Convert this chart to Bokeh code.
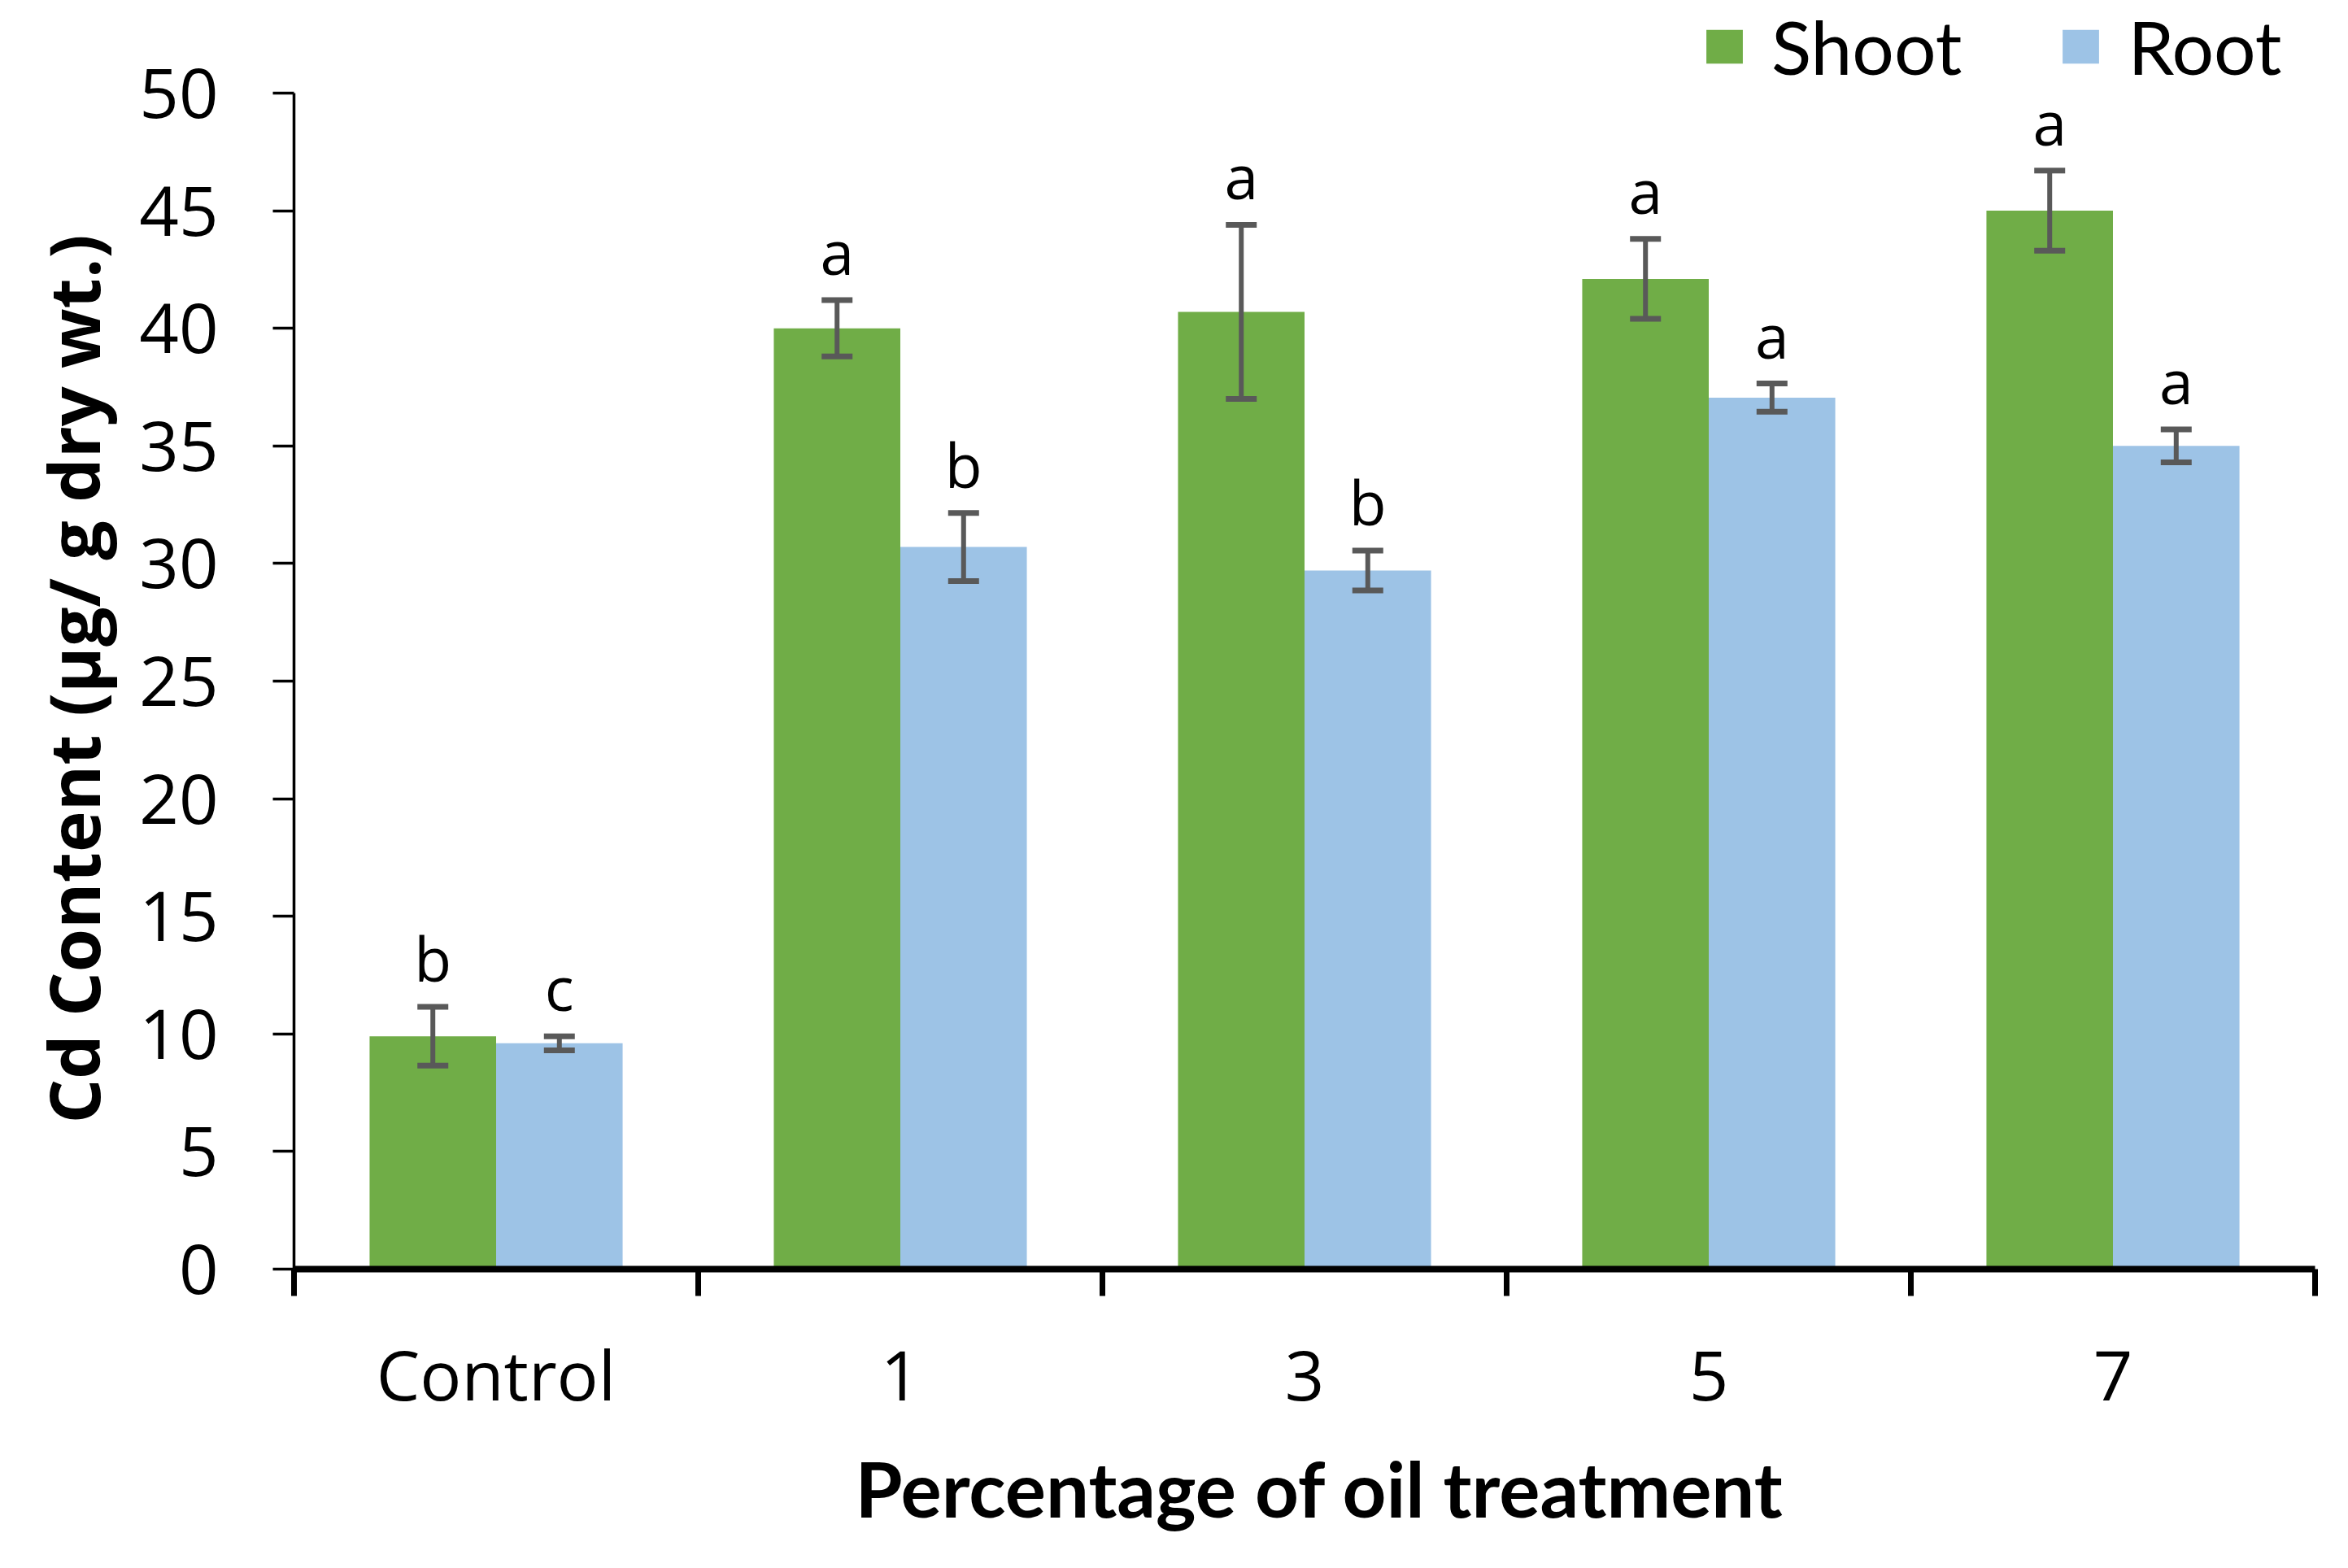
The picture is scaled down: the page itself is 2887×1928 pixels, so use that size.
from bokeh.plotting import figure
from bokeh.models import (Range1d, LinearAxis, FixedTicker, ColumnDataSource, Whisker,
                          TeeHead, LabelSet, Legend, LegendItem, Title)
from bokeh.core.properties import value
from bokeh.embed import file_html
from bokeh.resources import INLINE

# ---------------- data ----------------
categories = ["Control", "1", "3", "5", "7"]
shoot = [9.9, 40.0, 40.7, 42.1, 45.0]
shoot_err = [1.25, 1.2, 3.7, 1.7, 1.7]
root = [9.6, 30.7, 29.7, 37.05, 35.0]
root_err = [0.3, 1.45, 0.85, 0.6, 0.7]
shoot_letters = ["b", "a", "a", "a", "a"]
root_letters = ["c", "b", "b", "a", "a"]
y_ticks = [0, 5, 10, 15, 20, 25, 30, 35, 40, 45, 50]
series_names = ["Shoot", "Root"]
y_title = "Cd Content (µg/ g dry wt.)"
x_title = "Percentage of oil treatment"

GREEN = "#70AD47"
BLUE = "#9DC3E6"
ERR = "#595959"

bar_w = 0.313
n = len(categories)
centers = [i + 0.5 for i in range(n)]
bounds = list(range(n + 1))

def make_src(vals, errs, letters, shift):
    xs = [c + shift for c in centers]
    return ColumnDataSource(dict(
        x=xs, top=vals,
        upper=[v + e for v, e in zip(vals, errs)],
        lower=[v - e for v, e in zip(vals, errs)],
        letter=letters,
    ))

src_s = make_src(shoot, shoot_err, shoot_letters, -bar_w / 2)
src_r = make_src(root, root_err, root_letters, bar_w / 2)

# frame extends above 50 to host the legend; the axis itself stops at 50
Y_TOP = 50 * 1561 / 1447

p = figure(width=2870, height=1910, x_range=Range1d(0, n), y_range=Range1d(0, Y_TOP),
           output_backend="svg", toolbar_location=None, x_axis_location=None,
           min_border_left=361, min_border_right=24, min_border_top=0, min_border_bottom=349)
p.grid.visible = False
p.outline_line_color = None
p.background_fill_color = "white"
p.border_fill_color = "white"

# y axis
ya = p.yaxis[0]
ya.ticker = FixedTicker(ticks=y_ticks)
ya.bounds = (0, 50)
ya.axis_line_width = 3.5
ya.axis_line_color = "black"
ya.major_tick_out = 26
ya.major_tick_in = 0
ya.major_tick_line_width = 3.5
ya.minor_tick_line_color = None
ya.major_label_text_font = "Open Sans"
ya.major_label_text_font_size = "85px"
ya.major_label_text_color = "black"
ya.major_label_standoff = 67

# y title as a side title so that it can be centred on the 0-50 span
yt = Title(text=y_title, align="left", vertical_align="middle", offset=179, standoff=40,
           text_font="Open Sans", text_font_style="bold", text_font_size="86px",
           text_color="black")
p.add_layout(yt, "left")

# x axis: category labels at centres, short ticks at category boundaries
xa = LinearAxis(ticker=FixedTicker(ticks=centers, minor_ticks=bounds),
                major_label_overrides={c: lab for c, lab in zip(centers, categories)})
xa.axis_line_width = 8
xa.axis_line_color = "black"
xa.major_tick_line_color = None
xa.major_tick_out = 0
xa.major_tick_in = 0
xa.minor_tick_line_color = "black"
xa.minor_tick_line_width = 7
xa.minor_tick_out = 33
xa.minor_tick_in = 0
xa.major_label_text_font = "Open Sans"
xa.major_label_text_font_size = "85px"
xa.major_label_text_color = "black"
xa.major_label_standoff = 37
p.add_layout(xa, "below")

# x title as a side title, slightly right of centre like the reference
xt = Title(text=x_title, align="left", vertical_align="top", offset=690, standoff=46,
           text_font="Lato", text_font_style="bold", text_font_size="94px",
           text_color="black")
p.add_layout(xt, "below")

# bars
r_s = p.vbar(x="x", top="top", width=bar_w, source=src_s, fill_color=GREEN, line_color=None)
r_r = p.vbar(x="x", top="top", width=bar_w, source=src_r, fill_color=BLUE, line_color=None)

# error bars and significance letters
for src in (src_s, src_r):
    w = Whisker(base="x", upper="upper", lower="lower", source=src,
                line_color=ERR, line_width=6, level="overlay",
                upper_head=TeeHead(size=38, line_color=ERR, line_width=7),
                lower_head=TeeHead(size=38, line_color=ERR, line_width=7))
    p.add_layout(w)
    p.add_layout(LabelSet(x="x", y="upper", text="letter", source=src, y_offset=31,
                          text_align="center", text_baseline="alphabetic",
                          text_font=value("Open Sans"), text_font_size="75px",
                          text_color="black"))

legend = Legend(items=[LegendItem(label=series_names[0], renderers=[r_s]),
                       LegendItem(label=series_names[1], renderers=[r_r])],
                orientation="horizontal", location=(1731, 1449),
                glyph_width=56, glyph_height=52, label_standoff=30, spacing=118,
                label_text_font="Lato", label_text_font_size="91px",
                label_text_color="black", padding=0, margin=0,
                border_line_color=None, background_fill_alpha=0)
p.add_layout(legend, "center")

open("out.html", "w").write(file_html(p, INLINE))
